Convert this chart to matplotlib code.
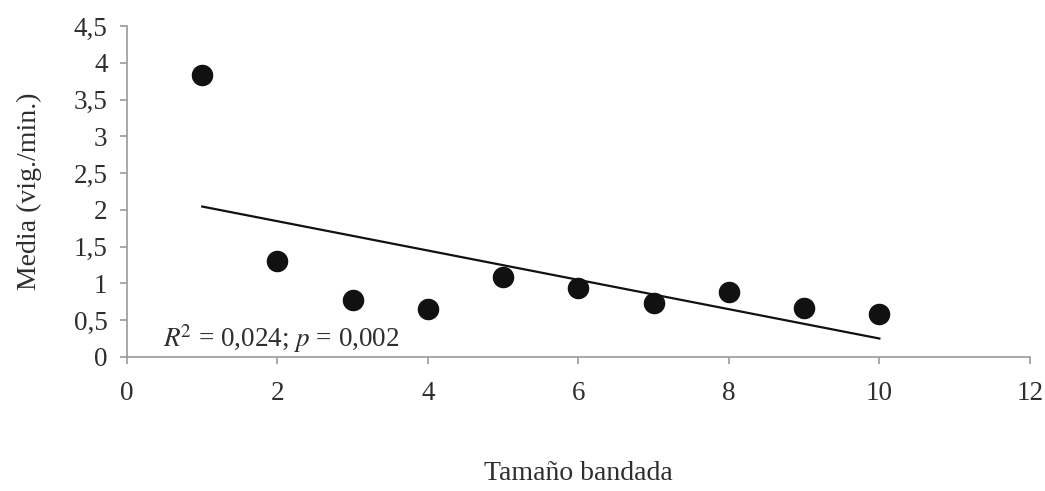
import matplotlib

matplotlib.use("Agg")
import matplotlib.pyplot as plt
import numpy as np
from matplotlib.ticker import FuncFormatter, MultipleLocator

# flock size vs mean vigilance (vig./min.)
flock_size = [1, 2, 3, 4, 5, 6, 7, 8, 9, 10]
mean_vig = [3.83, 1.30, 0.78, 0.65, 1.09, 0.94, 0.74, 0.89, 0.67, 0.59]
stats_text = r"$R^{\!2}$ = 0,024; $p$ = 0,002"

plt.rcParams["font.family"] = ["Liberation Serif", "DejaVu Serif"]
plt.rcParams["mathtext.fontset"] = "stix"

text_color = "#2e2e2e"
spine_color = "#9a9a9a"

fig = plt.figure(figsize=(10.45, 4.91), dpi=100)
ax = fig.add_axes([0.1215, 0.273, 0.864, 0.674])

ax.scatter(flock_size, mean_vig, s=210, color="#111111", zorder=3)

slope, intercept = np.polyfit(flock_size, mean_vig, 1)
xs = np.array([min(flock_size), max(flock_size)])
ax.plot(xs, slope * xs + intercept, color="#111111", linewidth=1.6)

ax.text(0.48, 0.02, stats_text, fontsize=19.5, color=text_color, va="bottom", ha="left")

ax.set_xlim(0, 12)
ax.set_ylim(0, 4.5)
ax.xaxis.set_major_locator(MultipleLocator(2))
ax.yaxis.set_major_locator(MultipleLocator(0.5))
ax.yaxis.set_major_formatter(FuncFormatter(lambda v, _: f"{v:g}".replace(".", ",")))

for side in ("top", "right"):
    ax.spines[side].set_visible(False)
for side in ("left", "bottom"):
    ax.spines[side].set_color(spine_color)
    ax.spines[side].set_linewidth(1.2)

ax.tick_params(axis="both", direction="out", length=5, width=1.2, color=spine_color,
               labelsize=19.5, labelcolor=text_color)
ax.tick_params(axis="x", pad=12)
ax.tick_params(axis="y", pad=9)

ax.set_xlabel("Tamaño bandada", fontsize=20, color=text_color, labelpad=40)
ax.set_ylabel("Media (vig./min.)", fontsize=20, color=text_color, labelpad=23)

fig.savefig("out.png", dpi=100)
plt.close(fig)
